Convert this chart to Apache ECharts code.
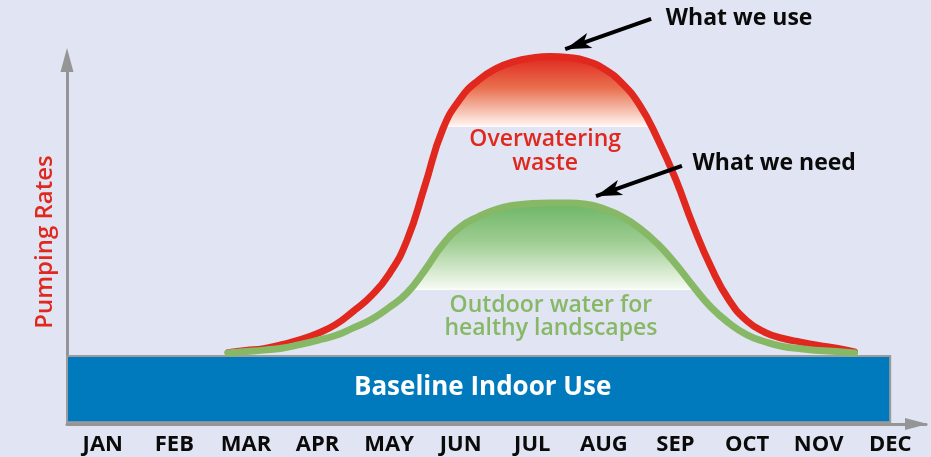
<!DOCTYPE html>
<html>
<head>
<meta charset="utf-8">
<title>Pumping Rates</title>
<script src="https://cdn.jsdelivr.net/npm/echarts@6/dist/echarts.min.js"></script>
<style>
  html, body { margin: 0; padding: 0; background: #e1e4f2; }
  #chart { width: 931px; height: 457px; }
</style>
</head>
<body>
<div id="chart"></div>
<script>
// Month labels on the horizontal axis
const months = ['JAN', 'FEB', 'MAR', 'APR', 'MAY', 'JUN', 'JUL', 'AUG', 'SEP', 'OCT', 'NOV', 'DEC'];

// Positions along the year (0 = JAN, 1 = FEB, ...) where the two curves are sampled
const samplePos = [
  1.75, 2.0, 2.25, 2.5, 2.75, 3.0, 3.25, 3.5, 3.75, 4.0, 4.25, 4.5,
  4.75, 5.0, 5.25, 5.5, 5.75, 6.0, 6.25, 6.5, 6.75, 7.0, 7.25, 7.5,
  7.75, 8.0, 8.25, 8.5, 8.75, 9.0, 9.25, 9.5, 9.75, 10.0, 10.25, 10.5
];

// "What we use": total pumping rate
const useRate = [
  19.6, 20.2, 20.7, 21.8, 23.1, 24.9, 27.3, 31.0, 35.2, 41.2, 50.5, 65.5,
  81.0, 89.5, 94.5, 97.7, 99.6, 100.6, 101.0, 100.7, 99.8, 97.6, 93.7, 87.6,
  78.4, 67.4, 54.4, 43.0, 34.0, 28.3, 25.2, 23.5, 22.5, 21.6, 20.8, 19.8
];

// "What we need": pumping rate for healthy landscapes
const needRate = [
  19.5, 19.9, 20.3, 20.8, 21.8, 23.0, 24.3, 26.4, 28.7, 32.0, 36.0, 42.3,
  49.3, 54.2, 57.0, 59.0, 60.1, 60.6, 60.7, 60.7, 60.4, 59.1, 57.0, 53.8,
  49.5, 44.0, 37.8, 32.0, 27.7, 24.5, 22.6, 21.3, 20.7, 20.2, 19.9, 19.5
];

// Lower edge of the shaded band under each curve
const useFillFloor = 81.6;
const needFillFloor = 36.8;

// Baseline indoor use block: [from month, to month, low, high]
const baselineBlock = [-0.5, 11, 0.5, 18.7];

// Texts
const yAxisTitle = 'Pumping Rates';
const baselineLabel = 'Baseline Indoor Use';
const wasteLabel = 'Overwatering\nwaste';
const outdoorLabel = 'Outdoor water for\nhealthy landscapes';
const useCallout = 'What we use';
const needCallout = 'What we need';

// Annotation anchors in data units: [month position, rate]
const wasteLabelAt = [6.18, 75.0];
const outdoorLabelAt = [6.26, 29.4];
const useCalloutAt = [8.89, 111.3];
const needCalloutAt = [9.38, 71.7];
const useArrow = [[7.66, 111.3], [6.46, 103.0]];
const needArrow = [[8.09, 70.9], [6.89, 62.6]];

const FONT = "'Open Sans', 'Noto Sans', sans-serif";
const RED = '#e0281e';
const GREEN = '#87b866';
const BLUE = '#0079bd';
const AXIS_GRAY = '#959595';
const INK = '#0a0a0a';

const useData = samplePos.map((p, i) => [p, useRate[i]]);
const needData = samplePos.map((p, i) => [p, needRate[i]]);

function textMark(text, at, style) {
  return {
    coord: at,
    label: Object.assign({ show: true, formatter: text, position: 'inside', align: 'center',
      verticalAlign: 'middle', fontFamily: FONT }, style)
  };
}

function arrowLine(pair) {
  return [{ coord: pair[0] }, { coord: pair[1] }];
}

function calloutArrows(pair) {
  return {
    silent: true,
    symbol: ['none', 'arrow'],
    symbolSize: [12, 26],
    label: { show: false },
    itemStyle: { color: '#000000' },
    lineStyle: { type: 'solid', color: '#000000', width: 4, opacity: 1 },
    data: [arrowLine(pair)]
  };
}

const chart = echarts.init(document.getElementById('chart'), null, { renderer: 'canvas' });

const option = {
  backgroundColor: '#e1e4f2',
  animation: false,
  grid: [
    { left: 67, right: 5, top: 0, bottom: 33 },
    { left: 67, right: 5, top: 60, bottom: 33 }
  ],
  xAxis: [
    { type: 'value', gridIndex: 0, min: -0.5, max: 11.5, show: false },
    {
      type: 'category', gridIndex: 1, data: months, boundaryGap: true,
      axisLine: {
        show: true, onZero: false, symbol: ['none', 'triangle'], symbolSize: [12, 23],
        symbolOffset: [0, -9.5], lineStyle: { color: AXIS_GRAY, width: 3 }
      },
      axisTick: { show: false },
      splitLine: { show: false },
      axisLabel: { color: INK, fontSize: 22, fontWeight: 'bold', fontFamily: FONT, margin: 10 }
    }
  ],
  yAxis: [
    { type: 'value', gridIndex: 0, min: 0, max: 116.5, show: false },
    {
      type: 'value', gridIndex: 1, min: 0, max: 1,
      axisLine: {
        show: true, onZero: false, symbol: ['none', 'triangle'], symbolSize: [13, 24],
        lineStyle: { color: AXIS_GRAY, width: 3 }
      },
      axisTick: { show: false },
      axisLabel: { show: false },
      splitLine: { show: false },
      name: yAxisTitle,
      nameLocation: 'middle',
      nameGap: 10,
      nameTextStyle: { color: RED, fontSize: 24, fontWeight: 600, fontFamily: FONT }
    }
  ],
  series: [
    {
      type: 'custom',
      name: baselineLabel,
      xAxisIndex: 0, yAxisIndex: 0,
      silent: true,
      encode: { x: [0, 1], y: [2, 3] },
      data: [baselineBlock],
      renderItem: function (params, api) {
        const p0 = api.coord([api.value(0), api.value(3)]);
        const p1 = api.coord([api.value(1), api.value(2)]);
        return {
          type: 'group',
          children: [
            {
              type: 'rect',
              shape: { x: p0[0], y: p0[1], width: p1[0] - p0[0], height: p1[1] - p0[1] },
              style: { fill: BLUE, stroke: '#9c9c9c', lineWidth: 2 }
            },
            {
              type: 'text',
              style: {
                text: baselineLabel, x: (p0[0] + p1[0]) / 2 + 4, y: (p0[1] + p1[1]) / 2 - 1,
                align: 'center', verticalAlign: 'middle', fill: '#ffffff',
                font: 'bold 26px ' + FONT
              }
            }
          ]
        };
      }
    },
    {
      type: 'line',
      name: useCallout,
      xAxisIndex: 0, yAxisIndex: 0,
      data: useData,
      smooth: 0.5,
      symbol: 'none',
      silent: true,
      clip: false,
      lineStyle: { color: RED, width: 7, cap: 'round', join: 'round' },
      areaStyle: { color: 'rgba(0,0,0,0)', opacity: 1 },
      markPoint: {
        silent: true, symbol: 'rect', symbolSize: 1,
        itemStyle: { color: 'rgba(0,0,0,0)' },
        data: [
          textMark(wasteLabel, wasteLabelAt, { color: RED, fontSize: 23, fontWeight: 600, lineHeight: 24 }),
          textMark(useCallout, useCalloutAt, { color: INK, fontSize: 23, fontWeight: 'bold' })
        ]
      },
      markLine: calloutArrows(useArrow)
    },
    {
      type: 'line',
      name: needCallout,
      xAxisIndex: 0, yAxisIndex: 0,
      data: needData,
      smooth: 0.5,
      symbol: 'none',
      silent: true,
      clip: false,
      lineStyle: { color: GREEN, width: 7, cap: 'round', join: 'round' },
      areaStyle: { color: 'rgba(0,0,0,0)', opacity: 1 },
      markPoint: {
        silent: true, symbol: 'rect', symbolSize: 1,
        itemStyle: { color: 'rgba(0,0,0,0)' },
        data: [
          textMark(outdoorLabel, outdoorLabelAt, { color: GREEN, fontSize: 23, fontWeight: 600, lineHeight: 23 }),
          textMark(needCallout, needCalloutAt, { color: INK, fontSize: 23, fontWeight: 'bold' })
        ]
      },
      markLine: calloutArrows(needArrow)
    }
  ]
};

chart.setOption(option);

// Shade each hump from its peak down to its floor with a vertical gradient
function bandGradient(values, floor, stops) {
  const peak = Math.max.apply(null, values);
  const yTop = chart.convertToPixel({ xAxisIndex: 0, yAxisIndex: 0 }, [0, peak])[1];
  const yBottom = chart.convertToPixel({ xAxisIndex: 0, yAxisIndex: 0 }, [0, floor])[1];
  return { type: 'linear', x: 0, y: yTop, x2: 0, y2: yBottom, global: true, colorStops: stops };
}

chart.setOption({
  series: [
    {},
    {
      areaStyle: {
        color: bandGradient(useRate, useFillFloor, [
          { offset: 0, color: '#e0281e' },
          { offset: 0.45, color: '#e9704f' },
          { offset: 0.97, color: '#fff1ec' },
          { offset: 0.995, color: '#fffaf8' },
          { offset: 1, color: 'rgba(255,255,255,0)' }
        ])
      }
    },
    {
      areaStyle: {
        color: bandGradient(needRate, needFillFloor, [
          { offset: 0, color: '#6db667' },
          { offset: 0.45, color: '#9fcd92' },
          { offset: 0.97, color: '#f3f9ef' },
          { offset: 0.995, color: '#fbfdf9' },
          { offset: 1, color: 'rgba(255,255,255,0)' }
        ])
      }
    }
  ]
});
</script>
</body>
</html>
